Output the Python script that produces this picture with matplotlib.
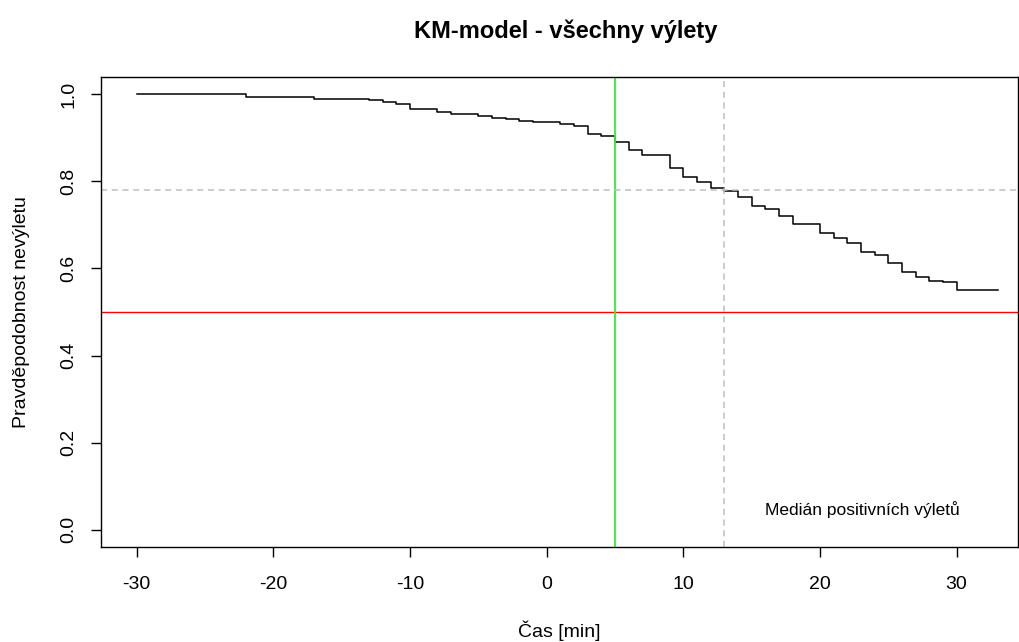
import matplotlib
matplotlib.use("Agg")
from matplotlib import pyplot as plt

plt.rcParams['font.family'] = ['Liberation Sans', 'DejaVu Sans']
plt.rcParams['axes.unicode_minus'] = False

# KM steps: time of drop and survival after it
cas = [-30, -22, -17, -13, -12, -11, -10, -8, -7, -5, -4, -3, -2, -1, 1, 2, 3, 4,
       5, 6, 7, 9, 10, 11, 12, 13, 14, 15, 16, 17, 18, 20, 21, 22, 23, 24, 25,
       26, 27, 28, 29, 30, 33]
preziti = [1.0, 0.993, 0.990, 0.987, 0.982, 0.978, 0.967, 0.960, 0.956, 0.951,
           0.947, 0.943, 0.939, 0.936, 0.932, 0.927, 0.908, 0.905, 0.890, 0.873,
           0.860, 0.832, 0.810, 0.798, 0.784, 0.779, 0.764, 0.743, 0.736, 0.720,
           0.703, 0.681, 0.670, 0.658, 0.638, 0.631, 0.613, 0.592, 0.581, 0.572,
           0.570, 0.550, 0.550]

hranice_cas = 5
median_cas = 13
median_hodnota = 0.78

fig = plt.figure(figsize=(10.19, 6.42), dpi=100)
ax = fig.add_axes([0.0991, 0.148, 0.9, 0.732])

ax.step(cas, preziti, where='post', color='black', lw=1.1)
ax.axhline(0.5, color='red', lw=1)
ax.axvline(hranice_cas, color='#33ee33', lw=1.3)
ax.axhline(median_hodnota, color='#bebebe', lw=1.1, ls=(0, (4, 3)))
ax.axvline(median_cas, color='#bebebe', lw=1.1, ls=(0, (4, 3)))
ax.text(16, 0.046, 'Medián positivních výletů', fontsize=12.5, va='center', ha='left')

ax.set_xlim(-32.6, 34.5)
ax.set_ylim(-0.04, 1.04)
ax.set_xticks([-30, -20, -10, 0, 10, 20, 30])
ax.set_yticks([0.0, 0.2, 0.4, 0.6, 0.8, 1.0])
ax.set_yticklabels(['0.0', '0.2', '0.4', '0.6', '0.8', '1.0'], rotation=90, va='center')
ax.tick_params(direction='out', length=7, width=1, labelsize=14)
ax.tick_params(axis='x', pad=14)
ax.tick_params(axis='y', pad=10)
for s in ax.spines.values():
    s.set_linewidth(1)

ax.set_xlabel('Čas [min]', fontsize=14, labelpad=20)
ax.set_ylabel('Pravděpodobnost nevýletu', fontsize=14, labelpad=22)
fig.suptitle('KM-model - všechny výlety', fontsize=17, fontweight='bold', x=0.555, y=0.97)

fig.savefig('out.png', dpi=100)
